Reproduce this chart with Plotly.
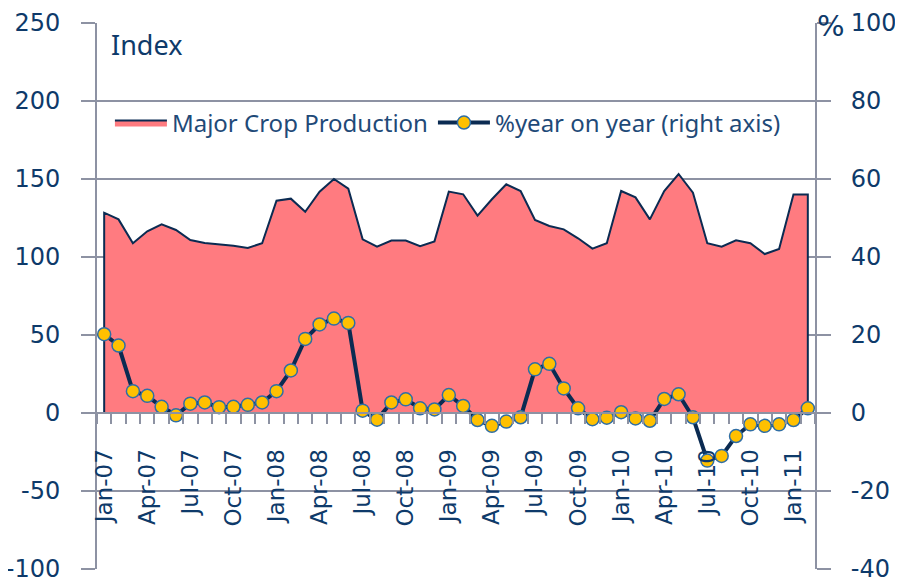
import plotly.graph_objects as go

months = ["Jan", "Feb", "Mar", "Apr", "May", "Jun", "Jul", "Aug", "Sep", "Oct", "Nov", "Dec"]
categories = [f"{months[i % 12]}-{7 + i // 12:02d}" for i in range(50)]  # Jan-07 .. Feb-11

crop_index = [128.4, 124.1, 108.8, 116.5, 120.9, 117.3, 110.9, 109.0, 108.1, 107.2, 105.8, 108.8,
              136.1, 137.4, 129.0, 141.9, 150.0, 143.8, 111.3, 106.6, 110.5, 110.5, 107.0, 110.0,
              141.9, 140.2, 126.5, 137.0, 146.6, 142.3, 123.7, 119.9, 117.7, 112.0, 105.4, 108.8,
              142.3, 138.2, 124.1, 142.3, 153.2, 141.2, 108.8, 106.6, 110.7, 108.8, 101.9, 105.1,
              140.0, 140.0]

yoy = [20.2, 17.3, 5.6, 4.4, 1.6, -0.6, 2.4, 2.7, 1.5, 1.6, 2.1, 2.7,
       5.6, 10.9, 19.0, 22.7, 24.2, 23.1, 0.6, -1.7, 2.7, 3.5, 1.2, 0.9,
       4.6, 1.8, -1.8, -3.3, -2.2, -1.1, 11.2, 12.6, 6.3, 1.2, -1.6, -1.2,
       0.2, -1.4, -2.0, 3.6, 4.8, -1.1, -12.2, -11.0, -5.9, -2.9, -3.3, -2.9,
       -1.8, 1.2]

left_ticks = [-100, -50, 0, 50, 100, 150, 200, 250]
right_ticks = [-40, -20, 0, 20, 40, 60, 80, 100]

idx = list(range(len(categories)))
label_idx = idx[::3]
label_txt = [categories[i] for i in label_idx]

NAVY = "#0B2B52"
TXT = "#0E3A6A"
GRID = "#8D92A3"
AXFONT = "DejaVu Sans"

fig = go.Figure()

# area closed with vertical edges at both ends
ax = [idx[0]] + idx + [idx[-1]]
ay = [0] + crop_index + [0]
fig.add_trace(go.Scatter(
    x=ax, y=ay, mode="lines", fill="tozeroy", fillcolor="#FF7B80",
    line=dict(color=NAVY, width=2), name="Major Crop Production", yaxis="y",
    hoverinfo="skip"))

fig.add_trace(go.Scatter(
    x=idx, y=yoy, mode="lines+markers", name="%year on year (right axis)", yaxis="y2",
    line=dict(color=NAVY, width=4),
    marker=dict(size=13, color="#FFC000", line=dict(color="#2F6EA5", width=1.5)),
    cliponaxis=False))

fig.update_layout(
    width=903, height=585,
    margin=dict(l=89, r=96, t=15, b=24, autoexpand=False),
    paper_bgcolor="white", plot_bgcolor="white",
    showlegend=True,
    legend=dict(orientation="h", x=0.018, y=0.817, xanchor="left", yanchor="middle",
                font=dict(family="Noto Sans", size=24, color="#1F4A78"),
                bgcolor="rgba(0,0,0,0)", itemwidth=52),
    xaxis=dict(range=[-0.5, len(idx) - 0.5], anchor="free", position=100 / 350,
               showgrid=False, zeroline=False, showline=True, linecolor=GRID, linewidth=2,
               tickmode="array", tickvals=label_idx, ticktext=label_txt, ticks="",
               tickangle=-90, ticklabelstandoff=26, automargin=False,
               tickfont=dict(family=AXFONT, size=23, color=TXT),
               minor=dict(tickmode="linear", tick0=-0.5, dtick=1, ticks="outside", ticklen=10,
                          tickwidth=2, tickcolor=GRID, showgrid=False),
               layer="above traces"),
    yaxis=dict(range=[-100, 250], tickmode="array", tickvals=left_ticks,
               ticktext=[str(v) for v in left_ticks], automargin=False,
               showgrid=True, gridcolor=GRID, gridwidth=2,
               zeroline=False, showline=True, linecolor=GRID, linewidth=2,
               ticks="outside", ticklen=14, tickwidth=2, tickcolor=GRID,
               ticklabelstandoff=16,
               tickfont=dict(family=AXFONT, size=24, color=TXT)),
    yaxis2=dict(range=[-40, 100], tickmode="array", tickvals=right_ticks,
                ticktext=[str(v) for v in right_ticks], automargin=False,
                overlaying="y", side="right",
                showgrid=False, zeroline=False, showline=True, linecolor=GRID, linewidth=2,
                ticks="outside", ticklen=14, tickwidth=2, tickcolor=GRID,
                ticklabelstandoff=15,
                tickfont=dict(family=AXFONT, size=24, color=TXT)),
    annotations=[
        dict(text="Index", xref="paper", yref="paper", x=0.017, y=0.96, xanchor="left",
             yanchor="middle", showarrow=False,
             font=dict(family="Noto Sans", size=27, color=TXT)),
        dict(text="%", xref="paper", yref="paper", x=1.0, y=0.994, xanchor="left",
             yanchor="middle", showarrow=False,
             font=dict(family=AXFONT, size=29, color=TXT)),
    ],
)

fig.write_html("out.html")
